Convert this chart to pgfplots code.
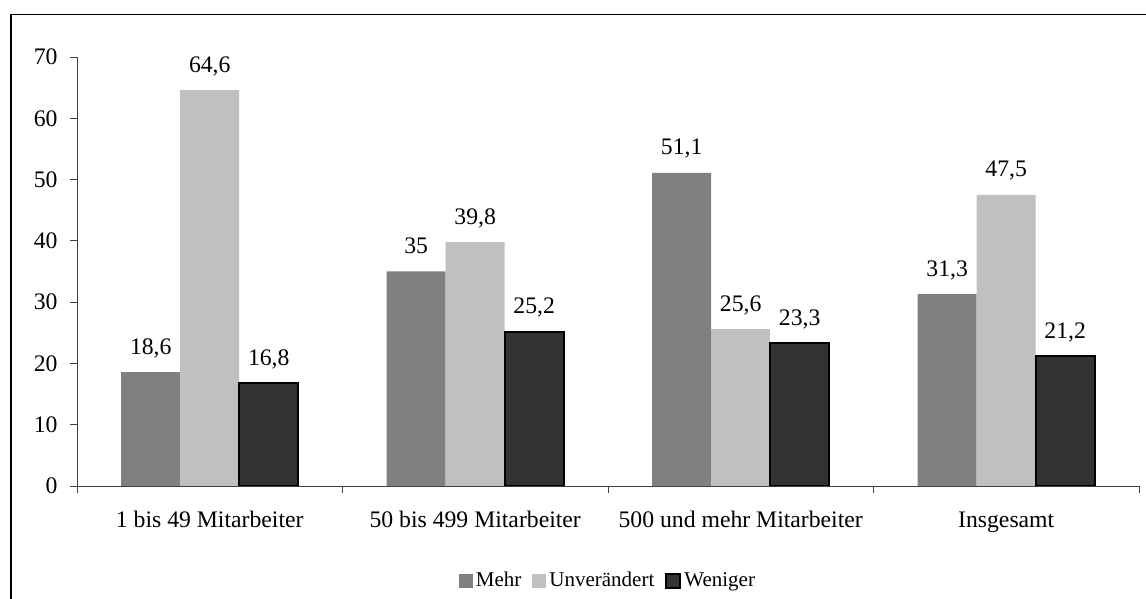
\documentclass[border=0pt]{standalone}
\usepackage{fontspec}
\setmainfont{Liberation Serif}
\usepackage{pgfplots}
\pgfplotsset{compat=1.18}
\definecolor{mehr}{HTML}{808080}
\definecolor{unv}{HTML}{C0C0C0}
\definecolor{wen}{HTML}{333333}
\begin{document}
\begin{tikzpicture}
\useasboundingbox (-77pt,-113pt) rectangle (1069pt,486pt);
\begin{axis}[
  name=ax, at={(0pt,0pt)}, anchor=south west,
  scale only axis, width=1062pt, height=429pt,
  xmin=-0.5, xmax=3.5, ymin=0, ymax=70,
  axis x line*=bottom, axis y line*=left,
  axis line style={black!75, line width=0.9pt},
  tick style={black!75, line width=0.9pt},
  tick align=outside, major tick length=7pt,
  ybar=0pt, bar width=59pt,
  xtick={-0.5,0.5,1.5,2.5,3.5}, xticklabels={},
  extra x ticks={0,1,2,3},
  extra x tick labels={1 bis 49 Mitarbeiter, 50 bis 499 Mitarbeiter, 500 und mehr Mitarbeiter, Insgesamt},
  extra x tick style={grid=none, major tick length=0pt,
    xticklabel style={anchor=base, yshift=-42pt}},
  ytick={0,10,...,70},
  yticklabel style={anchor=east, xshift=-9pt},
  ticklabel style={font=\fontsize{23.7}{28}\selectfont},
  /pgf/number format/.cd, use comma, assume math mode=true, 1000 sep={},
  /pgfplots/.cd,
  nodes near coords,
  every node near coord/.append style={font=\fontsize{23.7}{28}\selectfont, anchor=base, yshift=18pt, black},
  legend columns=-1,
  legend style={draw=none, at={(0.5,-0.219)}, anchor=center,
    font=\fontsize{21}{24}\selectfont,
    /tikz/every odd column/.append style={column sep=1pt},
    /tikz/every even column/.append style={column sep=9pt}},
  legend image code/.code={\path[#1] (0pt,-8pt) rectangle (14pt,6pt);},
]
\addplot[fill=mehr, draw=none] coordinates {(0,18.6) (1,35) (2,51.1) (3,31.3)};
\addplot[fill=unv, draw=none] coordinates {(0,64.6) (1,39.8) (2,25.6) (3,47.5)};
\addplot[fill=wen, draw=black, line width=2pt] coordinates {(0,16.8) (1,25.2) (2,23.3) (3,21.2)};
\legend{Mehr, Unverändert, Weniger}
\end{axis}
\draw[line width=1.5pt] (-66pt,-130pt) -- (-66pt,471.5pt) -- (1090pt,471.5pt);
\end{tikzpicture}
\end{document}
